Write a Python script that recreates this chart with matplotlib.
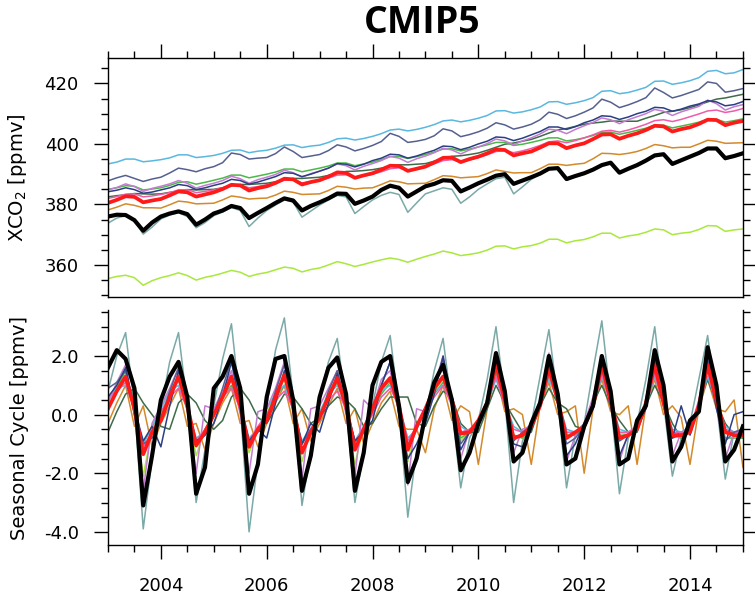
import numpy as np
import matplotlib
matplotlib.use('Agg')
import matplotlib.pyplot as plt
from matplotlib.ticker import MultipleLocator, FixedLocator, FixedFormatter

# sample times: every 2 months from Jan 2003 to Jan 2015
t = 2003 + np.arange(73) / 6.0

# ---------------- XCO2 [ppmv] (top panel) ----------------
xco2_sky = [393.4, 394.0, 395.0, 395.0, 394.1, 394.4,
            394.8, 395.4, 396.4, 396.4, 395.5, 395.8,
            396.2, 396.9, 397.9, 398.0, 397.1, 397.6,
            397.9, 398.6, 399.6, 399.7, 398.8, 399.3,
            399.6, 400.5, 401.7, 401.9, 401.3, 401.8,
            402.5, 403.4, 404.6, 404.9, 404.3, 404.8,
            405.5, 406.4, 407.6, 407.9, 407.3, 407.8,
            408.5, 409.4, 410.9, 411.0, 410.2, 410.6,
            411.3, 412.2, 413.9, 414.0, 413.1, 413.6,
            414.3, 415.3, 417.4, 417.6, 416.6, 417.0,
            417.8, 418.7, 420.7, 420.8, 419.7, 420.2,
            420.9, 421.9, 424.0, 424.3, 423.2, 423.5,
            424.6]
xco2_slate = [387.8, 388.8, 389.6, 388.6, 387.6, 388.4,
              389.0, 390.4, 392.0, 391.5, 390.8, 391.8,
              392.5, 393.8, 397.0, 396.5, 395.0, 395.3,
              395.5, 396.8, 399.0, 397.5, 395.5, 396.0,
              396.5, 397.8, 399.7, 399.0, 397.7, 398.5,
              399.5, 400.8, 403.5, 402.5, 400.5, 400.9,
              401.5, 402.7, 405.0, 404.3, 402.4, 403.1,
              404.0, 405.2, 407.0, 406.3, 404.9, 405.6,
              406.5, 408.0, 410.5, 409.8, 408.4, 409.3,
              410.5, 411.9, 414.8, 413.8, 412.0, 412.9,
              414.0, 415.3, 418.5, 417.0, 415.2, 416.0,
              417.0, 418.0, 420.5, 420.0, 417.1, 417.6,
              418.3]
xco2_navy = [384.2, 384.7, 385.5, 384.9, 383.7, 384.1,
             384.8, 385.5, 386.6, 386.2, 384.9, 385.5,
             386.3, 387.0, 388.3, 387.9, 386.7, 387.4,
             388.3, 389.2, 390.5, 390.3, 389.2, 390.0,
             391.0, 392.0, 393.5, 393.3, 392.4, 393.3,
             394.5, 395.3, 396.6, 396.4, 395.3, 396.0,
             397.0, 397.9, 399.3, 399.1, 398.1, 398.9,
             400.0, 400.9, 402.3, 402.1, 401.1, 401.9,
             403.0, 404.1, 405.6, 405.6, 404.8, 405.7,
             407.0, 407.9, 409.3, 409.1, 408.1, 408.9,
             410.0, 410.8, 412.1, 411.9, 410.8, 411.5,
             412.5, 413.2, 414.3, 413.9, 412.6, 413.0,
             414.0]
xco2_dkgreen = [382.5, 382.9, 383.2, 383.6, 383.5, 383.4,
                383.5, 384.0, 384.4, 384.9, 384.8, 384.9,
                385.0, 385.5, 386.1, 386.6, 386.6, 386.8,
                387.0, 387.5, 388.1, 388.6, 388.6, 388.8,
                389.0, 389.6, 390.2, 390.9, 391.0, 391.2,
                391.5, 392.0, 392.6, 393.1, 393.1, 393.3,
                393.5, 394.3, 395.1, 395.9, 396.1, 396.5,
                397.0, 397.9, 398.9, 399.9, 400.3, 400.9,
                401.5, 402.5, 403.6, 404.6, 405.1, 405.8,
                406.5, 406.9, 407.2, 407.6, 407.5, 407.5,
                407.5, 408.5, 409.4, 410.4, 410.8, 411.3,
                412.0, 412.9, 413.9, 414.8, 415.2, 415.8,
                416.4]
xco2_violet = [384.8, 385.6, 386.8, 385.9, 384.3, 385.3,
               386.0, 386.8, 387.9, 387.0, 385.4, 386.3,
               387.0, 387.9, 389.3, 388.5, 387.0, 388.2,
               389.0, 389.9, 391.3, 390.5, 389.0, 390.2,
               391.0, 392.0, 393.4, 392.8, 391.4, 392.6,
               393.5, 394.5, 395.9, 395.3, 393.9, 395.1,
               396.0, 397.1, 398.6, 398.0, 396.7, 398.0,
               399.0, 400.1, 401.6, 401.0, 399.7, 401.0,
               402.0, 403.3, 404.9, 404.5, 403.4, 404.8,
               406.0, 407.1, 408.6, 408.0, 406.7, 408.0,
               409.0, 410.0, 411.4, 410.8, 409.4, 410.6,
               411.5, 412.4, 414.5, 413.3, 411.2, 412.3,
               413.0]
xco2_pink = [382.0, 382.6, 383.4, 383.5, 382.5, 382.8,
             383.3, 383.9, 384.8, 384.9, 383.9, 384.3,
             384.8, 385.5, 386.4, 386.4, 385.5, 385.9,
             386.5, 387.2, 388.0, 388.1, 387.1, 387.5,
             388.0, 388.7, 389.7, 389.8, 388.9, 389.4,
             390.0, 390.8, 391.8, 392.1, 391.3, 391.8,
             392.5, 393.4, 394.5, 394.8, 394.1, 394.7,
             395.5, 396.4, 397.5, 397.8, 397.1, 397.7,
             398.5, 399.5, 400.7, 401.0, 400.4, 401.1,
             402.0, 403.0, 404.2, 404.5, 403.9, 404.6,
             405.5, 406.5, 407.7, 408.0, 407.4, 408.1,
             409.0, 409.9, 410.9, 411.2, 410.4, 410.9,
             411.7]
xco2_green = [385.0, 385.5, 386.2, 386.0, 384.8, 385.1,
              385.5, 386.3, 387.3, 387.5, 386.7, 387.3,
              388.0, 388.7, 389.7, 389.7, 388.8, 389.4,
              390.0, 390.7, 391.7, 391.7, 390.8, 391.4,
              392.0, 392.7, 393.7, 393.7, 392.8, 393.4,
              394.0, 394.8, 395.8, 395.9, 395.2, 395.8,
              396.5, 397.3, 398.3, 398.4, 397.7, 398.3,
              399.0, 399.7, 400.5, 400.5, 399.5, 399.9,
              400.5, 401.2, 402.0, 402.0, 401.0, 401.4,
              402.0, 402.8, 403.8, 403.9, 403.2, 403.8,
              404.5, 405.2, 406.2, 406.2, 405.3, 405.9,
              406.5, 407.2, 408.1, 408.1, 407.2, 407.7,
              408.3]
xco2_orange = [378.2, 379.1, 380.2, 379.7, 378.9, 378.9,
               378.8, 379.9, 381.1, 380.8, 380.2, 380.3,
               380.4, 381.5, 382.8, 382.4, 381.8, 382.0,
               382.1, 383.1, 384.4, 384.0, 383.3, 383.4,
               383.5, 384.6, 386.0, 385.7, 385.1, 385.4,
               385.5, 386.6, 387.8, 387.5, 386.8, 386.9,
               387.0, 388.2, 389.5, 389.3, 388.8, 389.0,
               389.2, 390.2, 391.4, 390.9, 390.4, 390.5,
               390.5, 391.8, 393.3, 393.3, 392.9, 393.3,
               393.6, 395.1, 396.9, 396.8, 396.5, 396.9,
               397.5, 398.5, 399.8, 399.4, 398.7, 398.9,
               398.9, 400.0, 401.2, 400.9, 400.2, 400.3,
               400.4]
xco2_teal = [373.8, 375.5, 376.3, 374.5, 370.2, 372.5,
             375.2, 376.5, 377.3, 376.0, 372.3, 374.0,
             376.3, 377.5, 379.0, 378.0, 372.7, 375.5,
             378.0, 379.8, 381.5, 380.8, 375.8, 377.8,
             379.8, 381.5, 383.0, 382.5, 377.0, 379.3,
             381.5, 383.0, 384.0, 383.3, 377.4, 380.5,
             383.5, 384.5, 385.5, 385.0, 380.4, 382.5,
             385.0, 386.8, 388.5, 389.0, 383.5, 385.8,
             388.3, 390.0, 391.8, 391.8, 388.0, 389.2,
             390.3, 391.5, 393.0, 393.8, 390.3, 391.6,
             393.0, 394.5, 396.2, 396.3, 393.0, 394.3,
             395.6, 396.8, 398.5, 398.2, 394.8, 395.8,
             396.8]
xco2_yg = [355.5, 356.2, 356.6, 355.8, 353.3, 354.8,
           355.8, 356.5, 357.4, 356.5, 355.0, 355.9,
           356.5, 357.3, 358.2, 357.6, 356.2, 357.0,
           357.5, 358.4, 359.3, 358.9, 357.7, 358.5,
           359.0, 360.0, 361.1, 360.4, 359.5, 360.2,
           361.0, 361.7, 362.3, 361.8, 360.9, 361.9,
           362.8, 363.6, 364.6, 364.0, 363.1, 363.5,
           364.0, 364.9, 366.2, 366.3, 365.3, 366.0,
           366.4, 367.2, 368.5, 368.5, 367.3, 368.0,
           368.4, 369.3, 370.5, 370.5, 368.9, 369.6,
           370.0, 370.8, 371.9, 371.6, 370.0, 370.5,
           370.8, 371.7, 373.0, 372.9, 371.1, 371.6,
           371.9]
xco2_mean = [380.5, 381.5, 382.7, 382.5, 380.7, 381.3,
             381.8, 383.0, 384.3, 384.0, 382.6, 383.3,
             384.0, 385.1, 386.5, 386.3, 384.6, 385.4,
             386.0, 387.1, 388.5, 388.3, 386.6, 387.4,
             388.0, 389.2, 390.6, 390.4, 388.8, 389.6,
             390.3, 391.5, 392.8, 392.7, 391.1, 391.8,
             392.5, 393.9, 395.4, 395.5, 394.0, 395.0,
             395.8, 396.9, 398.2, 398.0, 396.2, 396.9,
             397.5, 398.8, 400.2, 400.2, 398.6, 399.5,
             400.2, 401.6, 403.1, 403.2, 401.7, 402.7,
             403.5, 404.6, 406.0, 405.8, 404.1, 404.9,
             405.5, 406.6, 408.0, 407.9, 406.2, 407.0,
             407.6]
xco2_obs = [376.0, 376.6, 376.5, 374.8, 371.3, 374.0,
            376.0, 377.0, 377.7, 376.8, 373.3, 375.0,
            377.0, 378.0, 379.5, 378.8, 375.5, 377.2,
            378.8, 380.5, 382.0, 381.3, 378.0, 379.5,
            380.7, 382.0, 383.6, 383.5, 380.2, 381.3,
            382.6, 384.8, 386.2, 385.5, 382.6, 384.3,
            386.0, 386.8, 388.0, 387.8, 384.3, 385.6,
            387.0, 388.2, 389.5, 390.0, 386.8, 387.9,
            389.0, 390.2, 391.8, 392.0, 388.4, 389.4,
            390.3, 391.5, 393.0, 393.8, 390.5, 391.8,
            393.0, 394.5, 396.2, 396.6, 393.4, 394.6,
            395.8, 397.0, 398.5, 398.5, 395.3, 396.0,
            396.9]

# ---------------- seasonal cycle [ppmv] (bottom panel) ----------------
sc_sky = [0.5, 0.9, 1.0, 0.2, -1.0, -0.4,
          0.2, 0.8, 1.0, 0.2, -0.8, -0.6,
          0.1, 0.7, 0.9, 0.3, -0.8, -0.5,
          0.2, 0.7, 1.0, 0.2, -0.9, -0.5,
          0.1, 0.7, 1.0, 0.3, -0.9, -0.4,
          0.1, 0.8, 1.0, 0.3, -0.8, -0.5,
          0.1, 0.8, 1.0, 0.4, -0.4, -0.6,
          -0.2, 0.4, 1.2, 0.4, -0.4, -0.6,
          -0.3, 0.4, 1.2, 0.5, -0.5, -0.6,
          -0.3, 0.3, 1.3, 0.4, -0.5, -0.6,
          -0.4, 0.3, 1.3, 0.4, -0.5, -0.6,
          -0.4, 0.3, 1.3, 0.4, -0.4, -0.6,
          -0.6]
sc_slate = [0.9, 1.1, 1.5, 0.0, -1.0, -0.8,
            -0.2, 0.8, 1.6, 0.2, -1.0, -0.7,
            0.0, 0.9, 1.9, 0.3, -0.9, -0.6,
            -0.2, 0.8, 1.7, 0.3, -1.0, -0.5,
            -0.2, 0.8, 1.5, 0.3, -0.9, -0.6,
            0.3, 1.0, 1.8, 0.2, -1.2, -0.5,
            0.2, 1.0, 1.9, 0.4, -1.0, -0.6,
            -0.3, 0.4, 1.9, 0.5, -0.9, -0.6,
            -0.4, 0.3, 1.9, 0.5, -1.0, -0.8,
            -0.4, 0.4, 1.8, 0.4, -0.9, -0.7,
            -0.5, 0.3, 1.9, 0.4, -0.8, -0.7,
            -0.5, 0.3, 2.0, 0.3, -0.9, -0.6,
            -0.5]
sc_navy = [0.6, 1.0, 1.6, 0.2, -0.9, -0.4,
           -1.1, 0.3, 1.5, 0.3, -0.9, -0.7,
           -0.3, 0.6, 1.8, 0.3, -0.9, -0.5,
           -0.8, 0.4, 1.5, 0.2, -1.0, -0.3,
           -0.6, 0.4, 1.4, 0.2, -0.9, -0.6,
           -0.2, 1.0, 1.8, 0.0, -1.5, -1.0,
           -0.3, 0.7, 2.0, 0.4, -1.2, -0.6,
           -0.4, 0.3, 1.8, 0.5, -1.0, -1.1,
           -0.5, 0.3, 1.6, 0.5, -1.4, -1.0,
           -0.3, 0.4, 1.7, 0.3, -1.4, -0.7,
           -0.5, 0.2, 1.8, 0.3, -0.8, 0.3,
           -0.7, 0.3, 1.8, 0.2, -1.0, 0.0,
           0.1]
sc_dkgreen = [-0.6, 0.1, 0.7, 0.9, 0.4, 0.0,
              -0.4, -0.5, 0.4, 0.7, 0.4, -0.2,
              -0.5, -0.2, 0.6, 0.9, 0.5, -0.1,
              -0.3, 0.2, 0.7, 0.6, 0.2, -0.3,
              -0.1, 0.3, 0.6, 0.5, 0.2, -0.4,
              -0.3, 0.2, 0.6, 0.6, 0.6, -0.3,
              -0.4, 0.3, 0.8, 0.6, -0.3, -0.6,
              -0.6, 0.2, 1.0, 0.4, -0.1, -0.6,
              -0.6, 0.3, 0.9, 0.4, 0.2, -0.4,
              -0.5, 0.4, 1.0, 0.3, -0.2, -0.6,
              -0.6, 0.3, 1.0, 0.4, -0.3, -0.8,
              -0.5, 0.4, 1.2, 0.4, -0.3, -0.7,
              -0.8]
sc_violet = [0.4, 1.1, 1.7, 0.0, -2.6, -0.3,
             0.3, 0.9, 1.6, 0.1, -2.0, 0.3,
             0.2, 0.8, 1.5, 0.0, -2.0, 0.1,
             0.2, 0.9, 1.8, 0.0, -2.2, 0.2,
             0.3, 0.9, 1.5, 0.0, -2.1, 0.5,
             0.2, 1.2, 1.5, 0.0, -2.4, 0.2,
             0.1, 1.0, 2.0, 0.3, -1.5, -0.5,
             -0.3, 0.5, 2.0, 0.4, -1.3, -0.5,
             -0.4, 0.5, 2.1, 0.4, -1.6, -0.7,
             -0.3, 0.6, 2.0, 0.4, -1.6, -0.6,
             -0.5, 0.4, 2.1, 0.4, -1.4, -0.6,
             -0.5, 0.5, 2.1, 0.3, -1.5, -0.6,
             -0.5]
sc_pink = [0.6, 0.8, 1.1, 0.2, -1.1, -0.6,
           0.1, 0.6, 0.9, 0.2, -0.9, -0.5,
           0.0, 0.6, 0.9, 0.2, -0.9, -0.4,
           0.0, 0.5, 0.8, 0.2, -1.0, -0.5,
           0.0, 0.5, 0.8, 0.2, -0.9, -0.5,
           0.0, 0.6, 0.9, 0.3, -0.9, -0.4,
           0.1, 0.6, 1.0, 0.3, -0.6, -0.5,
           -0.3, 0.4, 1.3, 0.3, -0.5, -0.6,
           -0.4, 0.3, 1.4, 0.4, -0.6, -0.6,
           -0.4, 0.3, 1.4, 0.3, -0.6, -0.6,
           -0.4, 0.3, 1.4, 0.3, -0.6, -0.6,
           -0.5, 0.3, 1.5, 0.3, -0.5, -0.6,
           -0.6]
sc_green = [0.5, 0.9, 1.5, 0.1, -1.0, -0.4,
            0.0, 0.6, 1.2, 0.3, -1.1, -0.5,
            0.0, 0.6, 1.0, 0.3, -1.1, -0.5,
            0.0, 0.6, 1.0, 0.3, -1.0, -0.5,
            0.0, 0.6, 1.1, 0.3, -1.0, -0.5,
            0.1, 0.7, 1.1, 0.3, -1.0, -0.4,
            0.1, 0.7, 1.1, 0.5, -0.8, -0.6,
            -0.2, 0.3, 1.4, 0.4, -0.7, -0.8,
            -0.4, 0.3, 1.3, 0.5, -0.7, -0.7,
            -0.4, 0.3, 1.4, 0.4, -0.7, -0.7,
            -0.5, 0.3, 1.4, 0.4, -0.7, -0.8,
            -0.5, 0.3, 1.5, 0.4, -0.8, -0.8,
            -0.8]
sc_orange = [-0.3, 0.4, 1.0, -0.4, 0.3, -1.1,
             -0.3, 0.3, 0.9, -0.4, -0.3, -1.2,
             -0.3, 0.4, 0.9, -0.3, -0.2, -1.1,
             -0.3, 0.4, 1.0, -0.3, 0.2, -0.9,
             -0.3, 0.3, 0.9, -0.3, 0.2, -1.0,
             -0.3, 0.4, 0.8, -0.4, -0.5, -0.5,
             -1.3, 0.2, 1.0, -0.2, 0.3, 0.1,
             -1.7, 0.2, 1.4, 0.1, 0.2, 0.0,
             -1.7, 0.3, 1.1, 0.0, 0.1, 0.3,
             -2.0, 0.2, 1.2, 0.1, 0.0, 0.3,
             -1.7, 0.3, 1.2, 0.0, 0.3, -0.1,
             -1.7, 0.2, 1.2, 0.2, 0.1, 0.5,
             -1.8]
sc_teal = [0.8, 2.0, 2.8, 0.3, -3.9, -1.5,
           0.2, 1.8, 2.8, 0.3, -3.0, -1.2,
           0.3, 1.9, 3.1, 0.3, -4.0, -1.6,
           0.3, 2.2, 3.3, 0.6, -3.1, -1.2,
           0.5, 1.8, 2.6, 0.3, -3.0, -1.3,
           0.3, 1.8, 2.7, 0.2, -3.5, -1.2,
           0.0, 1.5, 2.6, 0.2, -2.5, -0.8,
           -0.2, 1.2, 3.0, 0.5, -3.0, -0.9,
           -0.3, 1.3, 2.9, 0.5, -2.5, -0.7,
           -0.3, 1.5, 3.2, 0.5, -2.7, -0.8,
           -0.3, 1.2, 3.0, 0.4, -2.1, -0.8,
           -0.3, 1.2, 2.7, 0.4, -2.2, -0.6,
           -0.5]
sc_yg = [0.3, 1.0, 1.5, 0.0, -2.1, -0.5,
         0.0, 0.8, 1.3, 0.1, -1.4, -0.5,
         0.0, 0.8, 1.2, 0.1, -1.3, -0.5,
         0.0, 0.8, 1.2, 0.1, -1.6, -0.5,
         0.0, 0.8, 1.1, 0.1, -1.7, -0.4,
         0.0, 0.8, 1.2, 0.1, -1.6, -0.3,
         0.1, 0.8, 1.2, 0.3, -0.9, -0.6,
         -0.2, 0.4, 1.5, 0.4, -0.7, -0.8,
         -0.4, 0.3, 1.4, 0.4, -0.7, -0.6,
         -0.4, 0.3, 1.4, 0.4, -0.6, -0.7,
         -0.5, 0.3, 1.4, 0.4, -0.6, -0.7,
         -0.5, 0.3, 1.5, 0.4, -0.5, -0.7,
         -0.6]
sc_mean = [0.2, 0.8, 1.3, 0.2, -1.35, -0.6,
           -0.2, 0.6, 1.3, 0.3, -1.05, -0.6,
           0.0, 0.6, 1.3, 0.3, -1.1, -0.5,
           -0.2, 0.6, 1.35, 0.3, -1.3, -0.6,
           -0.1, 0.6, 1.25, 0.3, -1.2, -0.5,
           0.2, 0.9, 1.25, 0.3, -1.2, -0.4,
           0.2, 0.9, 1.3, 0.5, -0.65, -0.6,
           -0.2, 0.4, 1.7, 0.5, -0.8, -0.7,
           -0.4, 0.3, 1.6, 0.5, -0.8, -0.6,
           -0.4, 0.3, 1.7, 0.5, -0.8, -0.7,
           -0.5, 0.4, 1.7, 0.4, -0.7, -0.7,
           -0.6, 0.3, 1.7, 0.5, -0.6, -0.7,
           -0.7]
sc_obs = [1.6, 2.2, 1.9, 0.9, -3.1, -1.4,
          0.5, 1.3, 1.8, 0.6, -2.7, -1.8,
          0.9, 1.3, 2.0, 0.9, -2.7, -1.7,
          0.6, 1.9, 2.0, 0.5, -2.6, -1.4,
          0.6, 1.6, 1.95, 0.7, -2.6, -1.3,
          1.0, 1.8, 2.0, 0.3, -2.3, -1.5,
          0.0, 1.1, 1.7, 0.5, -1.9, -1.3,
          -0.3, 0.4, 2.1, 0.8, -1.6, -1.3,
          -0.3, 0.4, 2.0, 0.7, -1.7, -1.5,
          -0.4, 0.3, 2.0, 0.8, -1.7, -1.5,
          -0.2, 0.3, 2.2, 1.0, -1.6, -1.1,
          -0.2, 0.1, 2.3, 1.0, -1.6, -1.2,
          -0.4]

# model lines (drawn thin) : colour, top series, bottom series
models = [
    ('#7aa9a8', xco2_teal, sc_teal),
    ('#d4892a', xco2_orange, sc_orange),
    ('#a9e83c', xco2_yg, sc_yg),
    ('#3e6b48', xco2_dkgreen, sc_dkgreen),
    ('#4cb848', xco2_green, sc_green),
    ('#5ab8e0', xco2_sky, sc_sky),
    ('#ee5ca8', xco2_pink, sc_pink),
    ('#c47bd0', xco2_violet, sc_violet),
    ('#56608f', xco2_slate, sc_slate),
    ('#2b3f82', xco2_navy, sc_navy),
]

xco2_ticks = [360, 380, 400, 420]
sc_ticks = [-4.0, -2.0, 0.0, 2.0]
sc_ticklabels = ['-4.0', '-2.0', '0.0', '2.0']
year_ticks = [2004, 2006, 2008, 2010, 2012, 2014]

plt.rcParams['font.family'] = 'DejaVu Sans'

fig = plt.figure(figsize=(7.55, 5.98), dpi=100)
ax1 = fig.add_axes([0.143, 0.5033, 0.841, 0.3997])
ax2 = fig.add_axes([0.143, 0.0886, 0.841, 0.393])

for col, top, bot in models:
    ax1.plot(t, top, color=col, lw=1.1)
    ax2.plot(t, bot, color=col, lw=1.1)
ax1.plot(t, xco2_mean, color='#ff1a1a', lw=2.7)
ax2.plot(t, sc_mean, color='#ff1a1a', lw=2.7)
ax1.plot(t, xco2_obs, color='black', lw=3.0)
ax2.plot(t, sc_obs, color='black', lw=3.0)

for ax in (ax1, ax2):
    ax.set_xlim(2003, 2015)
    ax.xaxis.set_major_locator(FixedLocator(year_ticks))
    ax.xaxis.set_minor_locator(MultipleLocator(0.5))
    ax.tick_params(which='both', direction='out', width=1.0, labelsize=13)
    ax.tick_params(which='major', length=10, pad=11)
    ax.tick_params(which='minor', length=5)
    for s in ax.spines.values():
        s.set_linewidth(1.0)

# top panel
ax1.set_ylim(349.4, 428.4)
ax1.yaxis.set_major_locator(FixedLocator(xco2_ticks))
ax1.yaxis.set_minor_locator(MultipleLocator(5))
ax1.tick_params(which='both', top=True, bottom=False, right=True,
                labelbottom=False, labeltop=False)
ax1.set_ylabel('XCO$_2$ [ppmv]', fontsize=14)
ax1.yaxis.set_label_coords(-0.125, 0.5)

# bottom panel
ax2.set_ylim(-4.45, 3.57)
ax2.yaxis.set_major_locator(FixedLocator(sc_ticks))
ax2.yaxis.set_major_formatter(FixedFormatter(sc_ticklabels))
ax2.yaxis.set_minor_locator(MultipleLocator(0.5))
ax2.spines['top'].set_visible(False)
ax2.tick_params(which='both', top=False, bottom=True, right=True)
ax2.tick_params(axis='x', which='major', pad=13)
ax2.set_ylabel('Seasonal Cycle [ppmv]', fontsize=14)
ax2.yaxis.set_label_coords(-0.125, 0.5)

fig.text(0.5596, 0.945, 'CMIP5', ha='center', va='baseline',
         fontsize=27, fontweight='bold', family='Open Sans')

fig.savefig('out.png', dpi=100)
